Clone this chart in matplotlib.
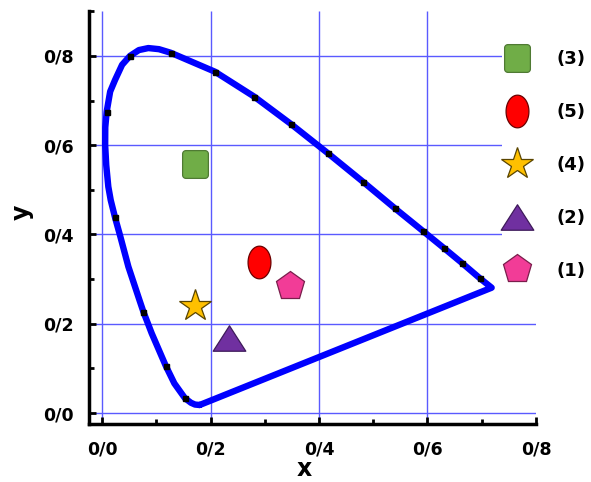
import numpy as np
import matplotlib
matplotlib.use("Agg")
import matplotlib.pyplot as plt
from matplotlib.path import Path
from matplotlib.lines import Line2D

# Spectral locus outline (chromaticity x, y), traced from the violet end upward
locus_x = [0.1800, 0.1714, 0.1640, 0.1530, 0.1333, 0.1174, 0.0916, 0.0762, 0.0690,
           0.0486, 0.0330, 0.0240, 0.0160, 0.0116, 0.0078, 0.0058, 0.0060, 0.0086,
           0.0150, 0.0240, 0.0370, 0.0516, 0.0680, 0.0854, 0.1050, 0.1266, 0.2083,
           0.2808, 0.3484, 0.4160, 0.4817, 0.5400, 0.5910, 0.6310, 0.6630, 0.6968,
           0.7183]
locus_y = [0.0180, 0.0190, 0.0230, 0.0330, 0.0665, 0.1060, 0.1785, 0.2270, 0.2530,
           0.3277, 0.3987, 0.4380, 0.4770, 0.5070, 0.5550, 0.6000, 0.6400, 0.6750,
           0.7200, 0.7460, 0.7800, 0.8000, 0.8130, 0.8175, 0.8150, 0.8070, 0.7645,
           0.7085, 0.6473, 0.5823, 0.5174, 0.4585, 0.4083, 0.3688, 0.3367, 0.3016,
           0.2807]

# Wavelength marks along the locus
mark_x = [0.1530, 0.1174, 0.0762, 0.0240, 0.0086, 0.0516, 0.1266, 0.2083, 0.2808,
          0.3484, 0.4160, 0.4817, 0.5400, 0.5910, 0.6310, 0.6630, 0.6968]
mark_y = [0.0330, 0.1060, 0.2270, 0.4380, 0.6750, 0.8000, 0.8070, 0.7645, 0.7085,
          0.6473, 0.5823, 0.5174, 0.4585, 0.4083, 0.3688, 0.3367, 0.3016]

# Sample chromaticity coordinates
sample_labels = ["(3)", "(5)", "(4)", "(2)", "(1)"]
sample_x = [0.171, 0.290, 0.171, 0.234, 0.347]
sample_y = [0.557, 0.338, 0.240, 0.167, 0.284]

tick_values = [0.0, 0.2, 0.4, 0.6, 0.8]
tick_labels = ["0/0", "0/2", "0/4", "0/6", "0/8"]

FONT = "DejaVu Sans"


def rounded_rect(hw, hh, r, n=8):
    pts = []
    corners = [(hw - r, hh - r, 0), (-hw + r, hh - r, 90),
               (-hw + r, -hh + r, 180), (hw - r, -hh + r, 270)]
    for cx, cy, a0 in corners:
        for t in np.linspace(np.radians(a0), np.radians(a0 + 90), n):
            pts.append((cx + r * np.cos(t), cy + r * np.sin(t)))
    pts.append(pts[0])
    codes = [Path.MOVETO] + [Path.LINETO] * (len(pts) - 2) + [Path.CLOSEPOLY]
    return Path(pts, codes)


def ellipse(ax_, ay_, n=64):
    t = np.linspace(0, 2 * np.pi, n)
    pts = np.column_stack([ax_ * np.cos(t), ay_ * np.sin(t)])
    codes = [Path.MOVETO] + [Path.LINETO] * (n - 2) + [Path.CLOSEPOLY]
    return Path(pts, codes)


tri = Path([(-0.5, -0.39), (0.5, -0.39), (0.0, 0.39), (-0.5, -0.39)],
           [Path.MOVETO, Path.LINETO, Path.LINETO, Path.CLOSEPOLY])

styles = [
    dict(marker=rounded_rect(0.464, 0.5, 0.12), markersize=20,
         markerfacecolor="#70AD47", markeredgecolor="#4F7A33"),
    dict(marker=ellipse(0.35, 0.5), markersize=23.5,
         markerfacecolor="#FF0000", markeredgecolor="#6B0000"),
    dict(marker="*", markersize=24,
         markerfacecolor="#FFC000", markeredgecolor="#5A4500"),
    dict(marker=tri, markersize=23.5,
         markerfacecolor="#7030A0", markeredgecolor="#3E1A5A"),
    dict(marker="p", markersize=21.5,
         markerfacecolor="#F23C97", markeredgecolor="#7A1E4C"),
]

fig = plt.figure(figsize=(5.91, 4.82), dpi=100)
ax = fig.add_axes([0.1506, 0.1203, 0.7563, 0.8564])
ax.set_xlim(-0.024, 0.8)
ax.set_ylim(-0.0246, 0.9)

grid_color = "#5A5AFF"
ax.vlines(tick_values[:-1], 0, 1, transform=ax.get_xaxis_transform(),
          colors=grid_color, lw=1.0, zorder=1)
ax.hlines(tick_values, 0, 1, transform=ax.get_yaxis_transform(),
          colors=grid_color, lw=1.0, zorder=1)

# Locus with the purple line closing it
cx = locus_x + [locus_x[0]]
cy = locus_y + [locus_y[0]]
ax.plot(cx, cy, color="#0000FF", lw=4.6, solid_joinstyle="round",
        solid_capstyle="round", zorder=3)
ax.plot(mark_x, mark_y, ls="none", marker="s", ms=3.6, color="black", zorder=4)

handles = []
for lab, sx, sy, st in zip(sample_labels, sample_x, sample_y, styles):
    ax.plot([sx], [sy], ls="none", markeredgewidth=0.9, zorder=5, **st)
    handles.append(Line2D([], [], ls="none", markeredgewidth=0.9, label=lab, **st))

leg = ax.legend(handles=handles, loc="upper left",
                bbox_to_anchor=(502 / 591, 1 - 45 / 482),
                bbox_transform=fig.transFigure, frameon=True,
                facecolor="white", edgecolor="none", framealpha=1,
                borderpad=0.3, borderaxespad=0, handlelength=1.06,
                handletextpad=1.65, labelspacing=1.93,
                prop=dict(family=FONT, weight="bold", size=13))
leg.set_zorder(6)

for side in ("top", "right"):
    ax.spines[side].set_visible(False)
for side in ("left", "bottom"):
    ax.spines[side].set_linewidth(2.5)

ax.set_xticks(tick_values)
ax.set_xticklabels(tick_labels)
ax.set_yticks(tick_values)
ax.set_yticklabels(tick_labels)
ax.set_xticks([0.1, 0.3, 0.5, 0.7], minor=True)
ax.set_yticks([0.1, 0.3, 0.5, 0.7, 0.9], minor=True)
ax.tick_params(which="major", direction="in", length=5, width=2)
ax.tick_params(which="minor", direction="in", length=3.5, width=2)
ax.tick_params(axis="x", which="major", pad=12)
ax.tick_params(axis="y", which="major", pad=11)
for lbl in ax.get_xticklabels() + ax.get_yticklabels():
    lbl.set_fontfamily(FONT)
    lbl.set_fontweight("bold")
    lbl.set_fontsize(12.5)

ax.set_xlabel("x", fontfamily=FONT, fontweight="bold", fontsize=17)
ax.set_ylabel("y", fontfamily=FONT, fontweight="bold", fontsize=17)
ax.xaxis.set_label_coords(0.481, -0.081)
ax.yaxis.set_label_coords(-0.123, 0.514)

fig.savefig("out.png", dpi=100)
